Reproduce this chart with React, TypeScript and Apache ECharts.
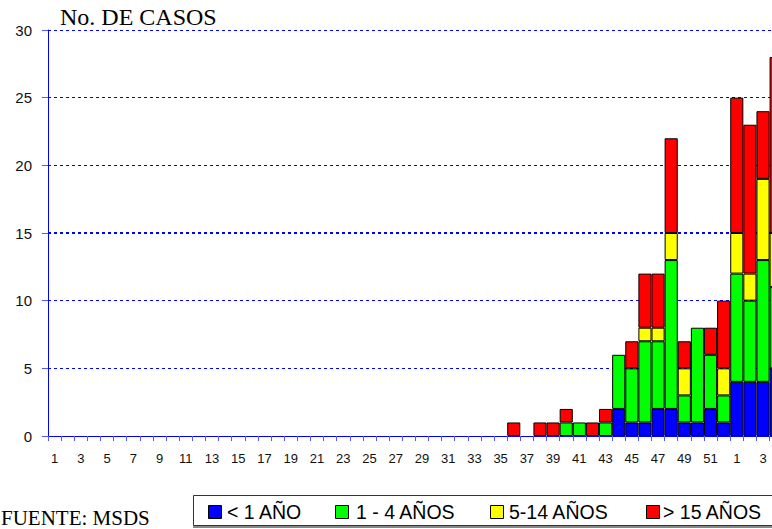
import React, { useEffect, useRef } from "react";
import * as echarts from "echarts";

const weeks: string[] = [
  ...Array.from({ length: 52 }, (_, i) => String(i + 1)),
  "1", "2", "3", "4",
];

// values per week: weeks 1..35 are zero, then 36..52, then 1..4 of the next year
const zeros35 = [0,0,0,0,0,0,0,0,0,0,0,0,0,0,0,0,0,0,0,0,0,0,0,0,0,0,0,0,0,0,0,0,0,0,0];
const under1: number[] = [...zeros35, 0,0,0,0,0,0,0,0, 2,1,1,2,2,1,1,2,1, 4,4,4,5];
const age1to4: number[] = [...zeros35, 0,0,0,0,1,1,0,1, 4,4,6,5,11,2,7,4,2, 8,6,9,6];
const age5to14: number[] = [...zeros35, 0,0,0,0,0,0,0,0, 0,0,1,1,2,2,0,0,2, 3,2,6,4];
const over15: number[] = [...zeros35, 1,0,1,1,1,0,1,1, 0,2,4,4,7,2,0,2,5, 10,11,5,13];

const seriesNames = ["< 1 AÑO", "1 - 4 AÑOS", "5-14 AÑOS", "> 15 AÑOS"];
const seriesColors = ["#0000ff", "#00ff00", "#ffff00", "#ff0000"];
const seriesData = [under1, age1to4, age5to14, over15];

const yTicks = [0, 5, 10, 15, 20, 25, 30];

export default function App() {
  const ref = useRef<HTMLDivElement>(null);
  useEffect(() => {
    if (!ref.current) return;
    const chart = echarts.init(ref.current, null, { renderer: "svg" });
    const legendIconX = [208, 335, 490, 646];
    const legendTextX = [227, 356, 509, 663];
    const legendGraphics: any[] = [
      {
        type: "rect",
        shape: { x: 193.5, y: 495.5, width: 620, height: 30 },
        style: { fill: "#fff", stroke: "#333", lineWidth: 1 },
        z: 10,
      },
      {
        type: "line",
        shape: { x1: 193, y1: 527, x2: 820, y2: 527 },
        style: { stroke: "#888", lineWidth: 2 },
        z: 10,
      },
    ];
    seriesNames.forEach((n, i) => {
      legendGraphics.push({
        type: "rect",
        shape: { x: legendIconX[i] + 0.5, y: 505.5, width: 13, height: 13 },
        style: { fill: seriesColors[i], stroke: "#000", lineWidth: 1 },
        z: 11,
      });
      legendGraphics.push({
        type: "text",
        x: legendTextX[i],
        y: 512,
        style: {
          text: n,
          fontSize: 19.5,
          fontFamily: "Arial, 'Liberation Sans', sans-serif",
          fill: "#000",
          verticalAlign: "middle",
          align: "left",
        },
        z: 11,
      });
    });

    chart.setOption({
      animation: false,
      backgroundColor: "#fff",
      grid: { left: 48, top: 30, width: 734.7, height: 406 },
      xAxis: {
        type: "category",
        data: weeks,
        axisLine: { lineStyle: { color: "#0000ff", width: 1 } },
        axisTick: {
          show: true,
          interval: 0,
          length: 5,
          lineStyle: { color: "#5555ff" },
        },
        axisLabel: {
          interval: 1,
          color: "#111",
          fontSize: 13,
          fontFamily: "Arial, 'Liberation Sans', sans-serif",
          margin: 16,
        },
        splitLine: { show: false },
      },
      yAxis: {
        type: "value",
        min: yTicks[0],
        max: yTicks[yTicks.length - 1],
        interval: 5,
        axisLine: { show: true, lineStyle: { color: "#0000ff", width: 1 } },
        axisTick: { show: true, length: 6, lineStyle: { color: "#5555ff" } },
        axisLabel: {
          color: "#111",
          fontSize: 15,
          fontFamily: "Arial, 'Liberation Sans', sans-serif",
          margin: 16,
        },
        splitLine: {
          show: true,
          lineStyle: { color: "#0000ff", type: [3, 3], width: 1 },
        },
      },
      series: seriesNames.map((name, i) => ({
        name,
        type: "bar",
        stack: "total",
        barCategoryGap: "0%",
        barGap: "0%",
        data: seriesData[i].map((v) => (v === 0 ? "-" : v)),
        itemStyle: {
          color: seriesColors[i],
          borderColor: "#000",
          borderWidth: 1,
        },
        ...(i === 0
          ? {
              markLine: {
                silent: true,
                symbol: "none",
                label: { show: false },
                lineStyle: { color: "#0000ff", type: [3, 3], width: 2 },
                data: [{ yAxis: 15 }],
                z: 1,
              },
            }
          : {}),
      })),
      graphic: [
        {
          type: "text",
          x: 60,
          y: 17,
          style: {
            text: "No. DE CASOS",
            fontSize: 24,
            fontFamily: "'Times New Roman', 'Liberation Serif', serif",
            fill: "#000",
            verticalAlign: "middle",
          },
        },
        {
          type: "text",
          x: 1,
          y: 518,
          style: {
            text: "FUENTE: MSDS",
            fontSize: 21,
            fontFamily: "'Times New Roman', 'Liberation Serif', serif",
            fill: "#000",
            verticalAlign: "middle",
          },
        },
        ...legendGraphics,
      ],
    });
    return () => chart.dispose();
  }, []);
  return (
    <div
      ref={ref}
      style={{ position: "fixed", left: 0, top: 0, width: 800, height: 529 }}
    />
  );
}
